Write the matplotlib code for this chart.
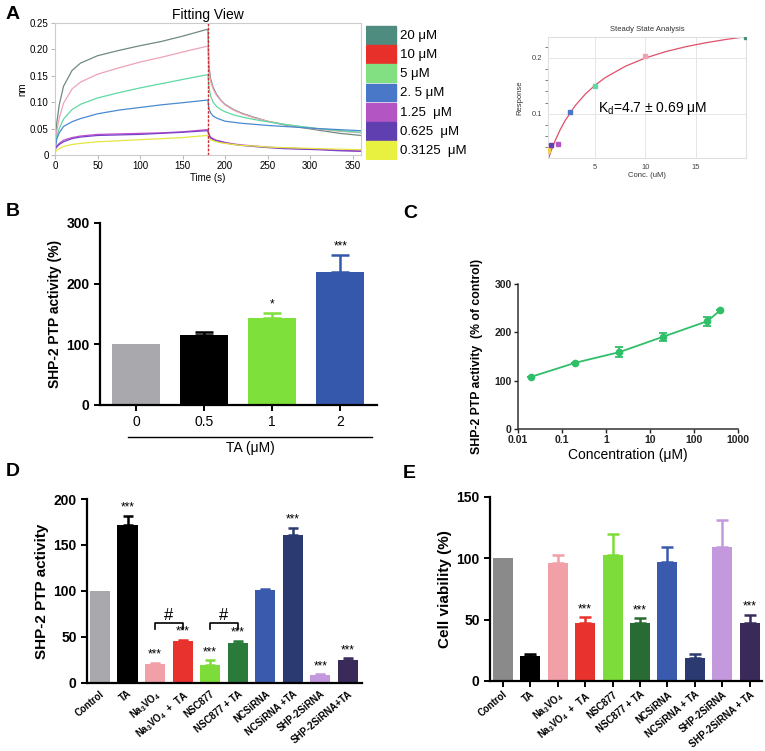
import matplotlib
matplotlib.use("Agg")
import matplotlib.pyplot as plt
from matplotlib.patches import Rectangle
import matplotlib.transforms as mtrans

plt.rcParams['font.family'] = ['Liberation Sans', 'DejaVu Sans']
plt.rcParams['mathtext.fontset'] = 'custom'
plt.rcParams['mathtext.rm'] = 'Liberation Sans'
plt.rcParams['mathtext.bf'] = 'Liberation Sans:bold'
plt.rcParams['mathtext.default'] = 'regular'

# ---- panel A : sensorgram ----
time_s = [0, 2, 5, 10, 20, 30, 50, 75, 100, 125, 150, 179, 180, 181, 183, 186,
          190, 195, 200, 210, 220, 235, 250, 270, 290, 310, 335, 360]
conc_labels = ["20 μM", "10 μM", "5 μM", "2. 5 μM", "1.25  μM", "0.625  μM", "0.3125  μM"]
legend_colors = ["#4d8c7f", "#e8302a", "#82e082", "#4a78c8", "#b455c4", "#6040b0", "#e8f040"]
line_colors = ["#6f8a80", "#eea3b5", "#5fd9a2", "#4a8ad0", "#c050d0", "#7a40c8", "#e6e640"]
resp_20 = [0.015, 0.06, 0.095, 0.13, 0.16, 0.174, 0.188, 0.198, 0.207, 0.215, 0.225, 0.238, 0.236,
           0.17, 0.145, 0.128, 0.115, 0.104, 0.096, 0.086, 0.079, 0.071, 0.064, 0.057, 0.052, 0.047, 0.041, 0.037]
resp_10 = [0.012, 0.045, 0.07, 0.098, 0.125, 0.138, 0.153, 0.165, 0.176, 0.185, 0.195, 0.206, 0.205,
           0.16, 0.14, 0.125, 0.113, 0.103, 0.095, 0.085, 0.078, 0.07, 0.064, 0.058, 0.053, 0.049, 0.045, 0.042]
resp_5 = [0.01, 0.035, 0.05, 0.068, 0.086, 0.096, 0.108, 0.118, 0.127, 0.135, 0.143, 0.152, 0.151,
          0.13, 0.112, 0.1, 0.092, 0.086, 0.082, 0.076, 0.072, 0.067, 0.063, 0.058, 0.054, 0.05, 0.046, 0.043]
resp_2_5 = [0.008, 0.03, 0.042, 0.054, 0.063, 0.069, 0.078, 0.085, 0.09, 0.095, 0.099, 0.104, 0.103,
            0.088, 0.08, 0.074, 0.07, 0.067, 0.064, 0.062, 0.06, 0.058, 0.056, 0.054, 0.052, 0.05, 0.048, 0.046]
resp_1_25 = [0.012, 0.017, 0.022, 0.028, 0.033, 0.036, 0.039, 0.04, 0.041, 0.042, 0.044, 0.048, 0.047,
             0.04, 0.034, 0.031, 0.028, 0.026, 0.024, 0.021, 0.019, 0.017, 0.015, 0.013, 0.012, 0.011, 0.009, 0.008]
resp_0_625 = [0.01, 0.015, 0.02, 0.025, 0.031, 0.034, 0.037, 0.038, 0.039, 0.041, 0.043, 0.046, 0.045,
              0.038, 0.032, 0.029, 0.027, 0.025, 0.023, 0.02, 0.018, 0.016, 0.014, 0.012, 0.011, 0.01, 0.008, 0.007]
resp_0_3125 = [0.005, 0.009, 0.012, 0.016, 0.02, 0.022, 0.025, 0.027, 0.029, 0.031, 0.033, 0.037, 0.036,
               0.031, 0.029, 0.027, 0.025, 0.023, 0.022, 0.02, 0.018, 0.017, 0.015, 0.014, 0.013, 0.012, 0.011, 0.01]

# ---- panel A : steady state ----
ss_conc = [0.3125, 0.625, 1.25, 2.5, 5, 10, 20]
ss_resp = [0.035, 0.044, 0.046, 0.103, 0.15, 0.204, 0.238]
ss_colors = ["#f0d040", "#6040b0", "#b455c4", "#4a78c8", "#5fd9a2", "#eea3b5", "#4d8c7f"]
fit_conc = [0.3, 0.6, 1, 1.5, 2, 3, 4, 5, 6, 8, 10, 12, 14, 16, 18, 20]
fit_resp = [0.0176, 0.0333, 0.0516, 0.0711, 0.0878, 0.1145, 0.1352, 0.1515, 0.1649,
            0.1852, 0.2, 0.2113, 0.2201, 0.2272, 0.2331, 0.238]

# ---- panel B ----
b_labels = ["0", "0.5", "1", "2"]
b_values = [100, 115, 144, 219]
b_err = [0, 6, 8, 29]
b_stars = ["", "", "*", "***"]
b_colors = ["#a9a9ad", "#000000", "#7ee03a", "#3558ad"]

# ---- panel C ----
c_conc = [0.02, 0.2, 2, 20, 200, 400]
c_values = [108, 137, 159, 191, 223, 246]
c_err = [0, 0, 10, 8, 9, 0]

# ---- panel D / E ----
d_labels = ["Control", "TA", r"$\mathbf{Na_3VO_4}$", r"$\mathbf{Na_3VO_4\ +\ TA}$", "NSC877",
            "NSC877 + TA", "NCSiRNA", "NCSiRNA +TA", "SHP-2SiRNA", "SHP-2SiRNA+TA"]
d_values = [100, 172, 21, 46, 20, 44, 101, 161, 9, 25]
d_err = [0, 10, 1, 1, 5, 2, 1, 8, 1, 2]
d_stars = ["", "***", "***", "***", "***", "***", "", "***", "***", "***"]
d_colors = ["#a8a8ad", "#000000", "#f2a0a8", "#e8322e", "#7ddc3a", "#2a7a3a",
            "#3a5aad", "#2b3a70", "#c498dc", "#3a2a5a"]

e_labels = ["Control", "TA", r"$\mathbf{Na_3VO_4}$", r"$\mathbf{Na_3VO_4\ +\ TA}$", "NSC877",
            "NSC877 + TA", "NCSiRNA", "NCSiRNA + TA", "SHP-2SiRNA", "SHP-2SiRNA + TA"]
e_values = [100, 20, 96, 47, 103, 47, 97, 19, 109, 47]
e_err = [0, 2, 7, 5, 17, 4, 12, 3, 22, 7]
e_stars = ["", "", "", "***", "", "***", "", "", "", "***"]
e_colors = ["#8a8a8a", "#000000", "#f2a0a8", "#e8322e", "#7ddc3a", "#2a6a35",
            "#3a5aad", "#2b3a70", "#c498dc", "#3a2a5a"]

W, H = 765, 751


def px_axes(fig, x0, y0, x1, y1):
    """axes from pixel box (top-left origin)"""
    return fig.add_axes([x0 / W, 1 - y1 / H, (x1 - x0) / W, (y1 - y0) / H])


def panel_a(fig):
    ax = px_axes(fig, 55, 23, 361, 155)
    curves = [resp_20, resp_10, resp_5, resp_2_5, resp_1_25, resp_0_625, resp_0_3125]
    for vals, col in zip(curves, line_colors):
        ax.plot(time_s, vals, color=col, lw=0.9)
    ax.axvline(180, color="#c83030", lw=1, ls=(0, (2, 1)))
    ax.set_xlim(0, 360)
    ax.set_ylim(0, 0.25)
    ax.set_xticks([0, 50, 100, 150, 200, 250, 300, 350])
    ax.set_yticks([0, 0.05, 0.10, 0.15, 0.20, 0.25])
    ax.set_yticklabels(["0", "0.05", "0.10", "0.15", "0.20", "0.25"])
    ax.tick_params(labelsize=7, length=3, color="#bbbbbb", pad=1.5)
    for s in ax.spines.values():
        s.set_color("#cccccc")
    ax.set_title("Fitting View", fontsize=10, pad=3)
    ax.set_xlabel("Time (s)", fontsize=7, labelpad=1)
    ax.set_ylabel("nm", fontsize=7, labelpad=2)

    # legend boxes
    lg = px_axes(fig, 366, 25, 480, 160)
    lg.set_xlim(0, 1)
    lg.set_ylim(len(conc_labels), 0)
    lg.axis("off")
    for i, (lab, col) in enumerate(zip(conc_labels, legend_colors)):
        lg.add_patch(Rectangle((0, i + 0.04), 0.265, 0.92, color=col))
        lg.text(0.3, i + 0.55, lab, fontsize=9.5, va="center", ha="left")

    # steady state
    ax2 = px_axes(fig, 548, 37, 746, 158)
    ax2.plot(fit_conc, fit_resp, color="#e0506a", lw=0.9, zorder=2)
    for c, r, col in zip(ss_conc, ss_resp, ss_colors):
        ax2.plot(c, r, "s", color=col, ms=3, zorder=3)
    ax2.set_xlim(0.3, 20)
    ax2.set_ylim(0.021, 0.2375)
    ax2.set_xticks([5, 10, 15])
    ax2.set_yticks([0.1, 0.2])
    ax2.set_yticks([0.04, 0.06, 0.08, 0.12, 0.14, 0.16, 0.18, 0.22], minor=True)
    ax2.grid(True, color="#e6e6e6", lw=0.7)
    ax2.tick_params(labelsize=5.5, length=0, colors="#444444", pad=4)
    ax2.tick_params(axis="y", which="minor", length=2, color="#666666")
    for s in ax2.spines.values():
        s.set_color("#e0e0e0")
    ax2.set_title("Steady State Analysis", fontsize=5.5, color="#333333", pad=4)
    ax2.set_xlabel("Conc. (uM)", fontsize=5.5, color="#333333", labelpad=1)
    ax2.set_ylabel("Response", fontsize=5.5, color="#333333", labelpad=6)
    ax2.text(5.3, 0.11, r"K$_d$=4.7 ± 0.69 μM", fontsize=10, va="center")


def style_bar_axes(ax):
    for s in ["top", "right"]:
        ax.spines[s].set_visible(False)
    for s in ["left", "bottom"]:
        ax.spines[s].set_linewidth(1.6)
    ax.tick_params(width=1.4, length=4)


def bar_panel(ax, values, err, colors, stars, width, capsize, star_gap):
    x = list(range(len(values)))
    ax.bar(x, values, width=width, color=colors, zorder=2)
    for i in x:
        if err[i] > 0:
            ax.errorbar(i, values[i], yerr=[[0], [err[i]]], fmt="none",
                        ecolor=colors[i], elinewidth=1.8, capsize=capsize,
                        capthick=1.8, zorder=1)
        if stars[i]:
            ax.text(i, values[i] + err[i] + star_gap, stars[i], ha="center",
                    va="bottom", fontsize=8.5)
    return x


def panel_b(fig):
    ax = px_axes(fig, 100, 223, 377, 405)
    x = bar_panel(ax, b_values, b_err, b_colors, b_stars, 0.7, 6.5, 4)
    ax.set_xlim(-0.53, 3.54)
    ax.set_ylim(0, 300)
    ax.set_yticks([0, 100, 200, 300])
    ax.set_xticks(x)
    ax.set_xticklabels(b_labels, fontsize=10)
    style_bar_axes(ax)
    for lab in ax.get_yticklabels():
        lab.set_fontweight("bold")
        lab.set_fontsize(10)
    ax.set_ylabel("SHP-2 PTP activity (%)", fontsize=10, fontweight="bold", labelpad=3)
    tr = mtrans.blended_transform_factory(ax.transData, ax.transAxes)
    ax.plot([-0.12, 3.47], [-0.176, -0.176], color="black", lw=1, transform=tr, clip_on=False)
    ax.text(1.68, -0.20, "TA (μM)", transform=tr, ha="center", va="top", fontsize=10)


def panel_c(fig):
    ax = px_axes(fig, 518, 284, 738, 429)
    ax.errorbar(c_conc, c_values, yerr=c_err, color="#2fbf68", lw=1.3, marker="o",
                ms=4.5, capsize=3, elinewidth=1.3, capthick=1.3)
    ax.set_xscale("log")
    ax.set_xlim(0.01, 1000)
    ax.set_ylim(0, 300)
    ax.set_yticks([0, 100, 200, 300])
    ax.set_xticks([0.01, 0.1, 1, 10, 100, 1000])
    ax.set_xticklabels(["0.01", "0.1", "1", "10", "100", "1000"])
    ax.minorticks_off()
    for s in ["top", "right"]:
        ax.spines[s].set_visible(False)
    for s in ["left", "bottom"]:
        ax.spines[s].set_linewidth(1.1)
        ax.spines[s].set_color("#333333")
    ax.tick_params(width=1, length=3, labelsize=7.5, colors="#222222", pad=1.5)
    for lab in ax.get_xticklabels() + ax.get_yticklabels():
        lab.set_fontweight("bold")
    ax.set_ylabel("SHP-2 PTP activity  (% of control)", fontsize=8.8,
                  fontweight="bold", labelpad=2)
    ax.yaxis.set_label_coords(-0.16, 0.5)
    ax.set_xlabel("Concentration (μM)", fontsize=10, labelpad=2)


def rotate_labels(ax, labels):
    ax.set_xticklabels(labels, rotation=40, ha="right", rotation_mode="anchor",
                       fontsize=6.9, fontweight="bold")


def panel_d(fig):
    ax = px_axes(fig, 87, 499, 362, 683)
    x = bar_panel(ax, d_values, d_err, d_colors, d_stars, 0.73, 3.5, 2)
    ax.set_xlim(-0.47, 9.51)
    ax.set_ylim(0, 200)
    ax.set_yticks([0, 50, 100, 150, 200])
    ax.set_xticks(x)
    rotate_labels(ax, d_labels)
    style_bar_axes(ax)
    ax.tick_params(axis="x", length=0, pad=4)
    for lab in ax.get_yticklabels():
        lab.set_fontweight("bold")
        lab.set_fontsize(10)
    ax.set_ylabel("SHP-2 PTP activity", fontsize=11, fontweight="bold", labelpad=3)
    for a, b in [(2, 3), (4, 5)]:
        ax.plot([a, a, b, b], [59, 65, 65, 59], color="black", lw=1.2)
        ax.text((a + b) / 2, 65, "#", ha="center", va="bottom", fontsize=12)


def panel_e(fig):
    ax = px_axes(fig, 490, 497, 762, 681)
    x = bar_panel(ax, e_values, e_err, e_colors, e_stars, 0.73, 4, 1.5)
    ax.set_xlim(-0.47, 9.45)
    ax.set_ylim(0, 150)
    ax.set_yticks([0, 50, 100, 150])
    ax.set_xticks(x)
    rotate_labels(ax, e_labels)
    style_bar_axes(ax)
    ax.tick_params(axis="x", pad=2)
    for lab in ax.get_yticklabels():
        lab.set_fontweight("bold")
        lab.set_fontsize(10)
    ax.set_ylabel("Cell viability (%)", fontsize=11, fontweight="bold", labelpad=3)


def main():
    fig = plt.figure(figsize=(7.65, 7.51), dpi=100)
    panel_a(fig)
    panel_b(fig)
    panel_c(fig)
    panel_d(fig)
    panel_e(fig)
    for lab, xp, yp in [("A", 6, 6), ("B", 6, 203), ("C", 403, 205), ("D", 6, 463), ("E", 403, 465)]:
        fig.text(xp / W, 1 - yp / H, lab, fontsize=14, fontweight="bold", va="top", ha="left")
    fig.savefig("out.png", dpi=100)


if __name__ == '__main__':
    main()
